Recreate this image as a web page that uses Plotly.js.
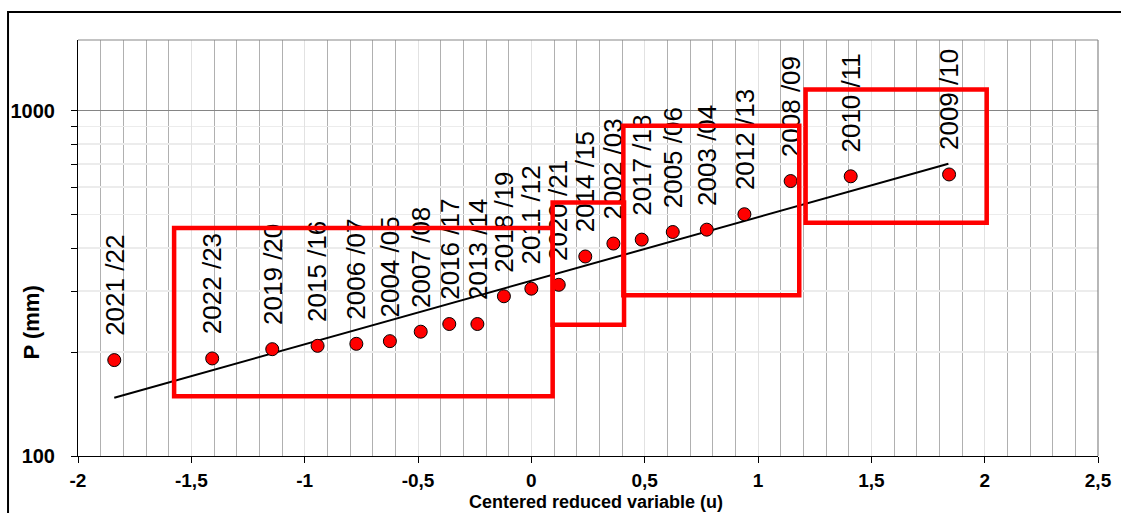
<!DOCTYPE html>
<html>
<head>
<meta charset="utf-8">
<script src="https://cdn.plot.ly/plotly-3.0.1.min.js"></script>
<style>
html,body{margin:0;padding:0;background:#fff;overflow:hidden}
#chart{width:1121px;height:513px}
</style>
</head>
<body>
<div id="chart"></div>
<script>
// ---- data ----
const seasons = ['2021 /22','2022 /23','2019 /20','2015 /16','2006 /07','2004 /05','2007 /08',
  '2016 /17','2013 /14','2018 /19','2011 /12','2020 /21','2014 /15','2002 /03','2017 /18',
  '2005 /06','2003 /04','2012 /13','2008 /09','2010 /11','2009 /10'];
const uValues = [-1.840,-1.408,-1.143,-0.943,-0.772,-0.624,-0.488,-0.362,-0.238,-0.121,0.000,
  0.121,0.238,0.362,0.487,0.624,0.774,0.940,1.144,1.409,1.843];
const precipitation = [189.5,191.6,203.8,208.4,211.2,215,229,241,241,290,305,
  313,378,412,423,445,452,501,625,645,653];
const fitU = [-1.84, 1.84];
const fitP = [147.5, 701];
const boxU0 = [-1.576, 0.094, 0.406, 1.210];
const boxU1 = [0.094, 0.409, 1.182, 2.009];
const boxP0 = [149, 240, 292, 473];
const boxP1 = [457, 542, 903, 1150];
const xTickVals = [-2,-1.5,-1,-0.5,0,0.5,1,1.5,2,2.5];
const xTickText = ['-2','-1,5','-1','-0,5','0','0,5','1','1,5','2','2,5'];
const yTickVals = [100,1000];
const yTickText = ['100','1000'];
const yMinorVals = [200,300,400,500,600,700,800,900];
const xTitle = 'Centered reduced variable (u)';
const yTitle = 'P (mm)';

const FONT = 'Arial, "Liberation Sans", sans-serif';

const traces = [
  {x: fitU, y: fitP, type:'scatter', mode:'lines', line:{color:'#000', width:2}, hoverinfo:'skip'},
  {x: uValues, y: precipitation, type:'scatter', mode:'markers',
   marker:{size:13, color:'#ff0000', line:{color:'#000', width:1}}}
];

const shapes = [];
for (let i = 0; i < boxU0.length; i++) {
  shapes.push({type:'rect', xref:'x', yref:'y', x0:boxU0[i], x1:boxU1[i], y0:boxP0[i], y1:boxP1[i],
    line:{color:'#ff0000', width:4.5}, fillcolor:'rgba(0,0,0,0)', layer:'above'});
}
// plot-area border (top/right) and outer chart frame
shapes.push({type:'line', xref:'paper', yref:'paper', x0:0, x1:1, y0:1, y1:1, line:{color:'#888', width:1.2}, layer:'above'});
shapes.push({type:'line', xref:'paper', yref:'paper', x0:1, x1:1, y0:0, y1:1, line:{color:'#888', width:1.2}, layer:'above'});
shapes.push({type:'rect', xref:'paper', yref:'paper', x0:-0.0686, x1:1.2, y0:-0.4, y1:1.0673,
  line:{color:'#000', width:2}, fillcolor:'rgba(0,0,0,0)', layer:'above'});

const annotations = seasons.map((s, i) => ({
  x: uValues[i], y: Math.log10(precipitation[i]), xref:'x', yref:'y',
  text: s, textangle: -90, showarrow:false, xanchor:'center', yanchor:'bottom', yshift:22,
  font:{family:FONT, size:26, color:'#000'}
}));
// axis titles
annotations.push({x:-0.0461, y:0.321, xref:'paper', yref:'paper', text:yTitle, textangle:-90,
  showarrow:false, xanchor:'center', yanchor:'middle',
  font:{family:FONT, size:22, color:'#000', weight:'bold'}});
annotations.push({x:0.5078, y:-0.1105, xref:'paper', yref:'paper', text:xTitle,
  showarrow:false, xanchor:'center', yanchor:'middle',
  font:{family:FONT, size:18, color:'#000', weight:'bold'}});

const layout = {
  width:1121, height:513,
  margin:{l:78, r:23, t:40, b:57},
  paper_bgcolor:'#fff', plot_bgcolor:'#fff',
  showlegend:false,
  xaxis:{
    range:[-2, 2.5], tickmode:'array', tickvals:xTickVals, ticktext:xTickText,
    ticks:'outside', ticklen:6, tickcolor:'#000', tickwidth:1,
    showline:true, linecolor:'#000', linewidth:1, zeroline:false,
    showgrid:true, gridcolor:'#e2e2e2', gridwidth:1,
    minor:{tickmode:'linear', tick0:0, dtick:0.1, showgrid:true, gridcolor:'#b0b0b0', gridwidth:1, ticks:''},
    tickfont:{family:FONT, size:19, color:'#000', weight:'bold'},
    ticklabelstandoff:1
  },
  yaxis:{
    type:'log', range:[2, Math.log10(1600)], tickmode:'array', tickvals:yTickVals, ticktext:yTickText,
    ticks:'outside', ticklen:6, tickcolor:'#000', tickwidth:1,
    showline:true, linecolor:'#000', linewidth:1, zeroline:false,
    showgrid:true, gridcolor:'#858585', gridwidth:1,
    minor:{tickmode:'array', tickvals:yMinorVals, ticks:'outside', ticklen:6, tickcolor:'#000',
      showgrid:true, gridcolor:'#ececec', gridwidth:1.5},
    tickfont:{family:FONT, size:20, color:'#000', weight:'bold'},
    ticklabelstandoff:12
  },
  shapes: shapes,
  annotations: annotations
};

Plotly.newPlot('chart', traces, layout, {displayModeBar:false, staticPlot:true}).then(gd => {
  // draw the red boxes over the data labels, as in the reference
  try {
    const upper = gd.querySelector('.layer-above .shapelayer');
    const info = gd.querySelector('.infolayer');
    if (upper && info && info.parentNode) info.parentNode.appendChild(upper);
  } catch (e) {}
});
</script>
</body>
</html>
